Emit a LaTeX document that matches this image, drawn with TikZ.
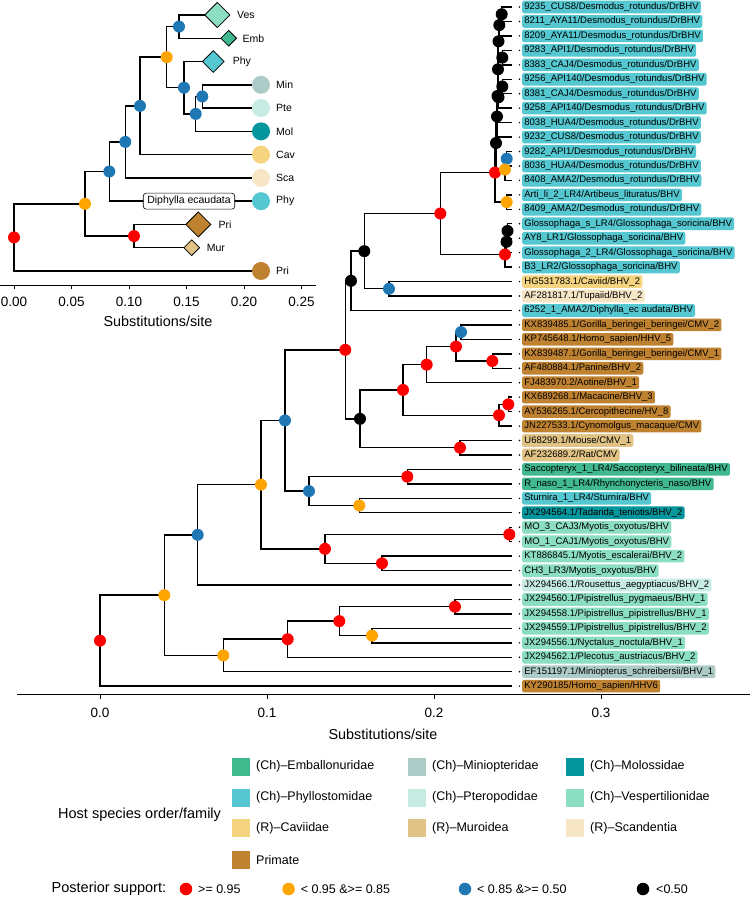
\documentclass[tikz,border=0pt]{standalone}
\usepackage{fontspec}
\setmainfont{Liberation Sans}
\usetikzlibrary{shapes.geometric,backgrounds}
\definecolor{cRed}{RGB}{255,0,0}
\definecolor{cOrange}{RGB}{255,165,0}
\definecolor{cBlue}{RGB}{31,120,180}
\definecolor{cPhy}{RGB}{84,199,208}
\definecolor{cEmb}{RGB}{63,185,141}
\definecolor{cMin}{RGB}{173,203,198}
\definecolor{cMol}{RGB}{3,151,157}
\definecolor{cPte}{RGB}{198,235,227}
\definecolor{cVes}{RGB}{140,222,195}
\definecolor{cCav}{RGB}{245,212,128}
\definecolor{cMur}{RGB}{225,195,133}
\definecolor{cSca}{RGB}{246,230,198}
\definecolor{cPri}{RGB}{191,130,49}
\newcommand\myfs[1]{\fontsize{#1}{#1}\selectfont}
\newcommand\tipleaf[3]{%
  \pgfmathsetmacro\ty{7+(#1-1)*14.45}%
  \coordinate (t#1) at (512,\ty);
  \node[tdot] (d#1) at (519.5,\ty) {};
  \node[tiplab, fill=#2] (l#1) at (522,\ty) {#3};
}
\tikzset{
  edge/.style={line width=1.4pt, black},
  nd/.style={circle, inner sep=0pt, minimum size=12pt},
  pr/.style={nd, fill=cRed},
  po/.style={nd, fill=cOrange},
  pb/.style={nd, fill=cBlue},
  pk/.style={nd, fill=black},
  tiplab/.style={anchor=west, rounded corners=2pt, inner xsep=2.2pt, inner ysep=0pt,
    minimum height=12.6pt, text height=6.9pt, text depth=1.9pt, font=\myfs{9.5}},
  tdot/.style={circle, fill=black, inner sep=0pt, minimum size=1.6pt},
  dia/.style={diamond, aspect=1, inner sep=0pt, draw=black, line width=0.8pt},
  lc/.style={circle, inner sep=0pt, minimum size=18pt},
  ilab/.style={anchor=west, inner sep=0pt, font=\myfs{10.5}},
  dbox/.style={draw=black, fill=white, rounded corners=3pt, inner xsep=4pt, inner ysep=0pt,
    minimum height=16pt, text height=7.6pt, text depth=2pt, line width=0.6pt, font=\myfs{10.5}},
  ticklab/.style={font=\myfs{13.5}, inner sep=0pt},
  axtitle/.style={font=\myfs{14.4}, inner sep=0pt},
  lgbox/.style={minimum size=18pt, inner sep=0pt},
  lgtext/.style={anchor=west, inner sep=0pt, font=\myfs{12.5}},
  lgdot/.style={circle, inner sep=0pt, minimum size=12.5pt},
}
\begin{document}
\begin{tikzpicture}[x=1pt,y=-1pt]
\useasboundingbox (0,0) rectangle (750,898);

% ---------------- inset tree ----------------
\node[pr] (ir0) at (14,237.4) {};
\node[po] (io1) at (85,203.8) {};
\node[pr] (ir2) at (134,236.07) {};
\node[pb] (ib7) at (109.3,171.5) {};
\node[pb] (ib6) at (125.3,141.89) {};
\node[pb] (ib5) at (140,105.89) {};
\node[po] (io2) at (166.7,57.16) {};
\node[pb] (ib1) at (179,26.6) {};
\node[pb] (ib2) at (184,87.72) {};
\node[pb] (ib3) at (195.7,113.9) {};
\node[pb] (ib4) at (202.3,96.45) {};

\node[dia, minimum size=25.4pt, fill=cVes] (iVes) at (217.3,15) {};
\node[dia, minimum size=16pt, fill=cEmb] (iEmb) at (228.7,38.27) {};
\node[dia, minimum size=22pt, fill=cPhy] (iPhyd) at (213.3,61.54) {};
\node[lc, fill=cMin] (iMin) at (261,84.81) {};
\node[lc, fill=cPte] (iPte) at (261,108.08) {};
\node[lc, fill=cMol] (iMol) at (261,131.35) {};
\node[lc, fill=cCav] (iCav) at (261,154.62) {};
\node[lc, fill=cSca] (iSca) at (261,177.89) {};
\node[lc, fill=cPhy] (iPhy) at (261,201.16) {};
\node[dia, minimum size=25.4pt, fill=cPri] (iPrid) at (198.3,224.43) {};
\node[dia, minimum size=16pt, fill=cMur] (iMur) at (191.7,247.7) {};
\node[lc, fill=cPri] (iPri) at (261,270.97) {};
\node[dbox] (idip) at (189,201.16) {Diphylla ecaudata};

\node[ilab] (xVes) at (237,15) {Ves};
\node[ilab] (xEmb) at (242.3,38.27) {Emb};
\node[ilab] (xPhyd) at (232.7,61.54) {Phy};
\node[ilab] (xMin) at (276,84.81) {Min};
\node[ilab] (xPte) at (276,108.08) {Pte};
\node[ilab] (xMol) at (276,131.35) {Mol};
\node[ilab] (xCav) at (276,154.62) {Cav};
\node[ilab] (xSca) at (276,177.89) {Sca};
\node[ilab] (xPhy) at (276,201.16) {Phy};
\node[ilab] (xPrid) at (218.3,224.43) {Pri};
\node[ilab] (xMur) at (206.7,247.7) {Mur};
\node[ilab] (xPri) at (276,270.97) {Pri};

% inset axis
\draw[line width=0.9pt] (0,285) -- (316,285);
\foreach \tx/\tl in {14/0.00, 71.5/0.05, 129/0.10, 186.5/0.15, 244/0.20, 301.5/0.25}{
  \draw[line width=0.9pt] (\tx,285) -- (\tx,289);
  \node[ticklab] at (\tx,301.5) {\tl};
}
\node[axtitle] (ititle) at (158,321) {Substitutions/site};

% ---------------- main tree ----------------
\node[pr] (r0) at (100,640.645) {};
\node[po] (o1) at (164.3,595.14) {};
\node[pb] (b1) at (197.7,534.83) {};
\node[po] (o2) at (223.3,655.445) {};
\node[pr] (rp1) at (287.7,639.19) {};
\node[pr] (rp2) at (339.3,621.125) {};
\node[pr] (rp3) at (455,606.675) {};
\node[po] (op) at (372,635.575) {};
\node[po] (o3) at (261,484.66) {};
\node[pb] (b2) at (285,420.44) {};
\node[pr] (rm1) at (325,548.875) {};
\node[pr] (rm2) at (509.3,534.425) {};
\node[pr] (rm3) at (382,563.325) {};
\node[pb] (b3) at (309,491.075) {};
\node[pr] (rs) at (407.3,476.625) {};
\node[po] (os) at (359.3,505.525) {};
\node[pr] (ra) at (345.3,349.81) {};
\node[pk] (k1) at (351,280.8) {};
\node[pk] (k2) at (360,418.83) {};
\node[pk] (k3) at (364.3,251.14) {};
\node[pb] (bc) at (389,288.775) {};
\node[pr] (rb) at (440.3,213.5) {};
\node[pr] (rg) at (505,254.46) {};
\node[pk] (kg1) at (506.5,241.81) {};
\node[pk] (kg2) at (507.5,230.975) {};
\node[pr] (rd) at (495,172.55) {};
\node[pk] (nj) at (496,143.03) {};
\node[pk] (ni) at (497,116.5) {};
\node[pb] (be) at (506.7,158.725) {};
\node[po] (oe) at (505,169.56) {};
\node[po] (od) at (506.7,202.075) {};
\node[pk] (nh) at (497.5,95.96) {};
\node[pk] (ng) at (498,69.31) {};
\node[pk] (nf) at (498.5,97.31) {};
\node[pk] (ne) at (502.3,86.475) {};
\node[pk] (nd) at (498.5,41.32) {};
\node[pk] (nc) at (502.3,57.575) {};
\node[pk] (nb) at (499.3,25.06) {};
\node[pk] (na) at (501.7,14.225) {};
\node[pr] (rh) at (403,389.93) {};
\node[pr] (rr) at (460,447.725) {};
\node[pr] (rh2) at (426.7,364.64) {};
\node[pr] (rc) at (499,415.21) {};
\node[pr] (rc2) at (508.3,404.375) {};
\node[pr] (rh3) at (456,346.575) {};
\node[pb] (bh) at (461,332.125) {};
\node[pr] (rh4) at (492.3,361.025) {};

% tips and labels
\tipleaf{1}{cPhy}{9235\_CUS8/Desmodus\_rotundus/DrBHV}
\tipleaf{2}{cPhy}{8211\_AYA11/Desmodus\_rotundus/DrBHV}
\tipleaf{3}{cPhy}{8209\_AYA11/Desmodus\_rotundus/DrBHV}
\tipleaf{4}{cPhy}{9283\_API1/Desmodus\_rotundus/DrBHV}
\tipleaf{5}{cPhy}{8383\_CAJ4/Desmodus\_rotundus/DrBHV}
\tipleaf{6}{cPhy}{9256\_API140/Desmodus\_rotundus/DrBHV}
\tipleaf{7}{cPhy}{8381\_CAJ4/Desmodus\_rotundus/DrBHV}
\tipleaf{8}{cPhy}{9258\_API140/Desmodus\_rotundus/DrBHV}
\tipleaf{9}{cPhy}{8038\_HUA4/Desmodus\_rotundus/DrBHV}
\tipleaf{10}{cPhy}{9232\_CUS8/Desmodus\_rotundus/DrBHV}
\tipleaf{11}{cPhy}{9282\_API1/Desmodus\_rotundus/DrBHV}
\tipleaf{12}{cPhy}{8036\_HUA4/Desmodus\_rotundus/DrBHV}
\tipleaf{13}{cPhy}{8408\_AMA2/Desmodus\_rotundus/DrBHV}
\tipleaf{14}{cPhy}{Arti\_li\_2\_LR4/Artibeus\_lituratus/BHV}
\tipleaf{15}{cPhy}{8409\_AMA2/Desmodus\_rotundus/DrBHV}
\tipleaf{16}{cPhy}{Glossophaga\_s\_LR4/Glossophaga\_soricina/BHV}
\tipleaf{17}{cPhy}{AY8\_LR1/Glossophaga\_soricina/BHV}
\tipleaf{18}{cPhy}{Glossophaga\_2\_LR4/Glossophaga\_soricina/BHV}
\tipleaf{19}{cPhy}{B3\_LR2/Glossophaga\_soricina/BHV}
\tipleaf{20}{cCav}{HG531783.1/Caviid/BHV\_2}
\tipleaf{21}{cSca}{AF281817.1/Tupaiid/BHV\_2}
\tipleaf{22}{cPhy}{6252\_1\_AMA2/Diphylla\_ec audata/BHV}
\tipleaf{23}{cPri}{KX839485.1/Gorilla\_beringei\_beringei/CMV\_2}
\tipleaf{24}{cPri}{KP745648.1/Homo\_sapien/HHV\_5}
\tipleaf{25}{cPri}{KX839487.1/Gorilla\_beringei\_beringei/CMV\_1}
\tipleaf{26}{cPri}{AF480884.1/Panine/BHV\_2}
\tipleaf{27}{cPri}{FJ483970.2/Aotine/BHV\_1}
\tipleaf{28}{cPri}{KX689268.1/Macacine/BHV\_3}
\tipleaf{29}{cPri}{AY536265.1/Cercopithecine/HV\_8}
\tipleaf{30}{cPri}{JN227533.1/Cynomolgus\_macaque/CMV}
\tipleaf{31}{cMur}{U68299.1/Mouse/CMV\_1}
\tipleaf{32}{cMur}{AF232689.2/Rat/CMV}
\tipleaf{33}{cEmb}{Saccopteryx\_1\_LR4/Saccopteryx\_bilineata/BHV}
\tipleaf{34}{cEmb}{R\_naso\_1\_LR4/Rhynchonycteris\_naso/BHV}
\tipleaf{35}{cPhy}{Sturnira\_1\_LR4/Sturnira/BHV}
\tipleaf{36}{cMol}{JX294564.1/Tadarida\_teniotis/BHV\_2}
\tipleaf{37}{cVes}{MO\_3\_CAJ3/Myotis\_oxyotus/BHV}
\tipleaf{38}{cVes}{MO\_1\_CAJ1/Myotis\_oxyotus/BHV}
\tipleaf{39}{cVes}{KT886845.1/Myotis\_escalerai/BHV\_2}
\tipleaf{40}{cVes}{CH3\_LR3/Myotis\_oxyotus/BHV}
\tipleaf{41}{cPte}{JX294566.1/Rousettus\_aegyptiacus/BHV\_2}
\tipleaf{42}{cVes}{JX294560.1/Pipistrellus\_pygmaeus/BHV\_1}
\tipleaf{43}{cVes}{JX294558.1/Pipistrellus\_pipistrellus/BHV\_1}
\tipleaf{44}{cVes}{JX294559.1/Pipistrellus\_pipistrellus/BHV\_2}
\tipleaf{45}{cVes}{JX294556.1/Nyctalus\_noctula/BHV\_1}
\tipleaf{46}{cVes}{JX294562.1/Plecotus\_austriacus/BHV\_2}
\tipleaf{47}{cMin}{EF151197.1/Miniopterus\_schreibersii/BHV\_1}
\tipleaf{48}{cPri}{KY290185/Homo\_sapien/HHV6}

% edges on background
\begin{scope}[on background layer]
\fill[white] (0,0) rectangle (750,898);
\foreach \p/\c in {ir0/io1, ir0/iPri, io1/ib7, io1/ir2, ir2/iPrid, ir2/iMur,
  ib7/ib6, ib7/iPhy, ib6/ib5, ib6/iSca, ib5/io2, ib5/iCav, io2/ib1, io2/ib2,
  ib1/iVes, ib1/iEmb, ib2/iPhyd, ib2/ib3, ib3/ib4, ib3/iMol, ib4/iMin, ib4/iPte,
  r0/o1, r0/t48, o1/b1, o1/o2, o2/rp1, o2/t47, rp1/rp2, rp1/t46, rp2/rp3, rp2/op,
  rp3/t42, rp3/t43, op/t44, op/t45, b1/o3, b1/t41, o3/b2, o3/rm1, rm1/rm2, rm1/rm3,
  rm2/t37, rm2/t38, rm3/t39, rm3/t40, b2/ra, b2/b3, b3/rs, b3/os, rs/t33, rs/t34,
  os/t35, os/t36, ra/k1, ra/k2, k1/k3, k1/t22, k3/rb, k3/bc, bc/t20, bc/t21,
  rb/rd, rb/rg, rg/kg1, rg/t19, kg1/kg2, kg1/t18, kg2/t16, kg2/t17,
  rd/nj, rd/od, od/t14, od/t15, nj/ni, nj/oe, oe/be, oe/t13, be/t11, be/t12,
  ni/nh, ni/t10, nh/ng, nh/t9, ng/nd, ng/nf, nf/ne, nf/t8, ne/t6, ne/t7,
  nd/nb, nd/nc, nc/t4, nc/t5, nb/na, nb/t3, na/t1, na/t2,
  k2/rh, k2/rr, rr/t31, rr/t32, rh/rh2, rh/rc, rc/rc2, rc/t30, rc2/t28, rc2/t29,
  rh2/rh3, rh2/t27, rh3/bh, rh3/rh4, bh/t23, bh/t24, rh4/t25, rh4/t26}{
  \draw[edge] (\p.center) |- (\c.center);
}
\end{scope}

% main axis
\draw[line width=0.9pt] (17,694) -- (750,694);
\foreach \tx/\tl in {100/0.0, 267/0.1, 434/0.2, 601/0.3}{
  \draw[line width=0.9pt] (\tx,694) -- (\tx,699);
  \node[ticklab] at (\tx,712.5) {\tl};
}
\node[axtitle] (mtitle) at (383,734) {Substitutions/site};

% legend: host
\node[anchor=west, inner sep=0pt, font=\myfs{14.5}] (lhost) at (58,815) {Host species order/family};
\node[lgbox, fill=cEmb] (g1) at (241,766.7) {};
\node[lgtext] (h1) at (256,766.7) {(Ch)–Emballonuridae};
\node[lgbox, fill=cMin] (g2) at (417,766.7) {};
\node[lgtext] (h2) at (432,766.7) {(Ch)–Miniopteridae};
\node[lgbox, fill=cMol] (g3) at (575,766.7) {};
\node[lgtext] (h3) at (590,766.7) {(Ch)–Molossidae};
\node[lgbox, fill=cPhy] (g4) at (241,797.7) {};
\node[lgtext] (h4) at (256,797.7) {(Ch)–Phyllostomidae};
\node[lgbox, fill=cPte] (g5) at (417,797.7) {};
\node[lgtext] (h5) at (432,797.7) {(Ch)–Pteropodidae};
\node[lgbox, fill=cVes] (g6) at (575,797.7) {};
\node[lgtext] (h6) at (590,797.7) {(Ch)–Vespertilionidae};
\node[lgbox, fill=cCav] (g7) at (241,828.3) {};
\node[lgtext] (h7) at (256,828.3) {(R)–Caviidae};
\node[lgbox, fill=cMur] (g8) at (417,828.3) {};
\node[lgtext] (h8) at (432,828.3) {(R)–Muroidea};
\node[lgbox, fill=cSca] (g9) at (575,828.3) {};
\node[lgtext] (h9) at (590,828.3) {(R)–Scandentia};
\node[lgbox, fill=cPri] (g10) at (241,860) {};
\node[lgtext] (h10) at (256,860) {Primate};

% legend: posterior support
\node[anchor=west, inner sep=0pt, font=\myfs{14.5}] (lpost) at (51.5,889) {Posterior support:};
\node[lgdot, fill=cRed] (p1) at (186,889) {};
\node[lgtext] (q1) at (198,889) {>= 0.95};
\node[lgdot, fill=cOrange] (p2) at (288.6,889) {};
\node[lgtext] (q2) at (300.6,889) {< 0.95 \&>= 0.85};
\node[lgdot, fill=cBlue] (p3) at (465,889) {};
\node[lgtext] (q3) at (477,889) {< 0.85 \&>= 0.50};
\node[lgdot, fill=black] (p4) at (643,889) {};
\node[lgtext] (q4) at (656,889) {<0.50};
\end{tikzpicture}
\end{document}
